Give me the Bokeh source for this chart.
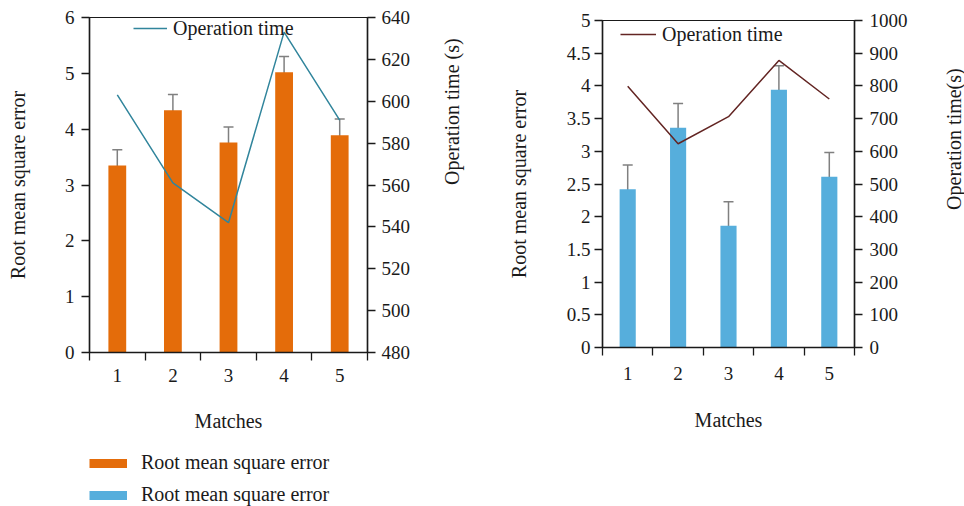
import math
from bokeh.plotting import figure
from bokeh.models import (Range1d, LinearAxis, FixedTicker, Legend, LegendItem,
                          ColumnDataSource, Whisker, TeeHead)
from bokeh.core.properties import value
from bokeh.layouts import row, column
from bokeh.embed import file_html
from bokeh.resources import INLINE

# ---------------- data ----------------
matches = [1, 2, 3, 4, 5]
x_label = "Matches"
y_label = "Root mean square error"

rmse_a = [3.35, 4.34, 3.76, 5.02, 3.89]
err_a = [0.28, 0.28, 0.28, 0.28, 0.29]
time_a = [603, 561, 542, 633, 591]
rmse_ticks_a = [0, 1, 2, 3, 4, 5, 6]
time_ticks_a = [480, 500, 520, 540, 560, 580, 600, 620, 640]
time_label_a = "Operation time (s)"

rmse_b = [2.42, 3.36, 1.86, 3.94, 2.61]
err_b = [0.37, 0.37, 0.37, 0.37, 0.37]
time_b = [799, 623, 706, 878, 760]
rmse_ticks_b = [0, 0.5, 1, 1.5, 2, 2.5, 3, 3.5, 4, 4.5, 5]
time_ticks_b = [0, 100, 200, 300, 400, 500, 600, 700, 800, 900, 1000]
time_label_b = "Operation time(s)"

line_label = "Operation time"

ORANGE = "#E46C0A"
BLUE = "#56AEDC"
TEAL = "#31859C"
MAROON = "#632523"
GRAY = "#808080"
FONT = "Liberation Serif"
TXT = "#1a1a1a"


def style_axis(ax, tick_out=8, standoff=7, label_standoff=30):
    ax.axis_line_color = TXT
    ax.axis_line_width = 1.5
    ax.major_tick_line_color = TXT
    ax.major_tick_line_width = 1.3
    ax.major_tick_in = 0
    ax.major_tick_out = tick_out
    ax.minor_tick_line_color = None
    ax.major_label_text_font = FONT
    ax.major_label_text_font_size = "19px"
    ax.major_label_text_color = TXT
    ax.major_label_standoff = standoff
    ax.axis_label_text_font = FONT
    ax.axis_label_text_font_size = "20px"
    ax.axis_label_text_font_style = "normal"
    ax.axis_label_text_color = TXT
    ax.axis_label_standoff = label_standoff


def make_chart(width, height, mbl, mbr, mbt, mbb, rmse, err, times, rticks, tticks,
               bar_color, line_color, time_label, leg_loc, leg_w,
               xstand, xlabstand, lstand, llabstand, rstand, rlabstand):
    p = figure(width=width, height=height, x_range=Range1d(0.5, 5.5),
               y_range=Range1d(rticks[0], rticks[-1]), title=None,
               output_backend="svg", toolbar_location=None,
               min_border_left=mbl, min_border_right=mbr,
               min_border_top=mbt, min_border_bottom=mbb)
    p.xgrid.visible = False
    p.ygrid.visible = False
    p.outline_line_color = TXT
    p.outline_line_width = 1.2
    p.background_fill_color = "white"
    p.border_fill_color = "white"

    # x axis: labels at category centres, ticks at category boundaries
    xa = p.xaxis[0]
    bounds = [m - 0.5 for m in matches] + [matches[-1] + 0.5]
    xa.ticker = FixedTicker(ticks=matches, minor_ticks=bounds)
    style_axis(xa, tick_out=0, standoff=xstand, label_standoff=xlabstand)
    xa.minor_tick_line_color = TXT
    xa.minor_tick_line_width = 1.3
    xa.minor_tick_in = 0
    xa.minor_tick_out = 8
    xa.axis_label = x_label

    ya = p.yaxis[0]
    ya.ticker = FixedTicker(ticks=rticks, minor_ticks=[])
    ya.major_label_overrides = {float(v): f"{v:g}" for v in rticks}
    style_axis(ya, standoff=lstand, label_standoff=llabstand)
    ya.axis_label = y_label

    p.extra_y_ranges = {"t": Range1d(tticks[0], tticks[-1])}
    ra = LinearAxis(y_range_name="t", ticker=FixedTicker(ticks=tticks, minor_ticks=[]))
    style_axis(ra, standoff=rstand, label_standoff=rlabstand)
    if time_label is not None:
        ra.axis_label = time_label
        ra.axis_label_orientation = math.pi / 2
    p.add_layout(ra, "right")

    upper = [r + e for r, e in zip(rmse, err)]
    lower = [r - e for r, e in zip(rmse, err)]
    src = ColumnDataSource(dict(x=matches, top=rmse, upper=upper, lower=lower, t=times))
    bars = p.vbar(x="x", top="top", bottom=0, width=0.32, source=src,
                  fill_color=bar_color, line_color=None)
    wh = Whisker(base="x", upper="upper", lower="lower", source=src,
                 line_color=GRAY, line_width=1.5,
                 upper_head=TeeHead(size=10, line_color=GRAY, line_width=1.5),
                 lower_head=TeeHead(size=10, line_color=GRAY, line_width=1.5))
    p.add_layout(wh)
    ln = p.line(x="x", y="t", source=src, y_range_name="t",
                line_color=line_color, line_width=1.5)

    leg = Legend(items=[LegendItem(label=line_label, renderers=[ln])],
                 location=leg_loc, glyph_width=leg_w, glyph_height=28,
                 label_height=28, label_standoff=6, padding=0, margin=0, spacing=0,
                 border_line_color=None, background_fill_alpha=0,
                 label_text_font=FONT, label_text_font_size="20px",
                 label_text_color=TXT)
    p.add_layout(leg)
    return p, bars


# left chart (orange bars)
pa, bars_a = make_chart(480, 445, 89, 113, 17, 93, rmse_a, err_a, time_a,
                        rmse_ticks_a, time_ticks_a, ORANGE, TEAL, time_label_a,
                        (44, 310), 34, 8, 25, 7, 33, 6, 39)
# right chart (blue bars); its right-hand title is drawn in a narrow strip
pb, bars_b = make_chart(464, 506, 122, 90, 20, 159, rmse_b, err_b, time_b,
                        rmse_ticks_b, time_ticks_b, BLUE, MAROON, None,
                        (18, 299), 36, 11, 26, 4, 34, 7, 40)

# strip holding the right chart's secondary axis title
plab = figure(width=20, height=506, x_range=Range1d(0, 20), y_range=Range1d(0, 506),
              title=None, output_backend="svg", toolbar_location=None,
              x_axis_type=None, y_axis_type=None, min_border=0)
plab.outline_line_color = None
plab.xgrid.visible = False
plab.ygrid.visible = False
plab.text(x=[9], y=[506 - 183.5], text=[time_label_b], angle=math.pi / 2,
          text_align="center", text_baseline="middle",
          text_font=value(FONT), text_font_size="20px", text_color=TXT)

# strip holding the bottom legend under the left chart
# (its frame is aligned by the column layout with the left chart's frame)
pleg = figure(width=480, height=61, x_range=Range1d(0, 480), y_range=Range1d(0, 61),
              title=None, output_backend="svg", toolbar_location=None,
              x_axis_type=None, y_axis_type=None, min_border=0)
pleg.outline_line_color = None
pleg.xgrid.visible = False
pleg.ygrid.visible = False
sw_a = pleg.line(x=[-100, -90], y=[-100, -100], line_color=ORANGE, line_width=9,
                 line_cap="butt")
sw_b = pleg.line(x=[-100, -90], y=[-100, -100], line_color=BLUE, line_width=9,
                 line_cap="butt")
bleg = Legend(items=[LegendItem(label=y_label, renderers=[sw_a]),
                     LegendItem(label=y_label, renderers=[sw_b])],
              location=(0, -1.5), glyph_width=38, glyph_height=26, label_height=26,
              label_standoff=14, padding=0, margin=0, spacing=6,
              border_line_color=None, background_fill_alpha=0,
              label_text_font=FONT, label_text_font_size="20px",
              label_text_color=TXT)
pleg.add_layout(bleg)

layout = row(column(pa, pleg), pb, plab)
open("out.html", "w").write(file_html(layout, INLINE))
